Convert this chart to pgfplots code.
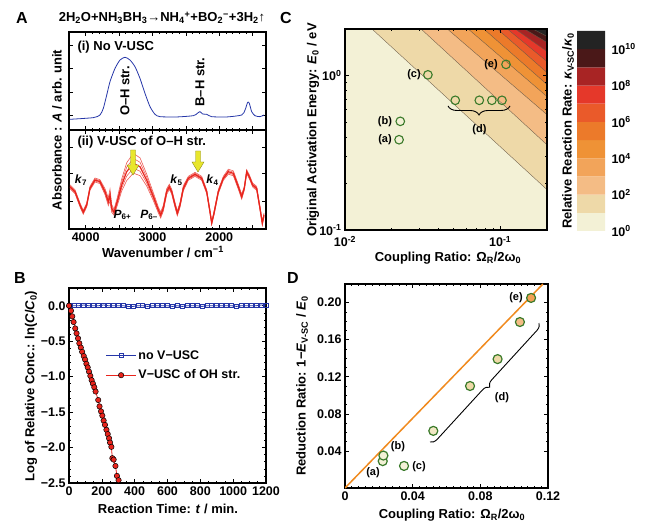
\documentclass[border=0pt]{standalone}
\usepackage{fontspec}
\setmainfont{Liberation Sans}
\usepackage{pgfplots}
\usepackage{pgfplotstable}
\pgfplotsset{compat=1.18}
\usetikzlibrary{decorations.pathreplacing}

% contour band colours (one per decade of the rate ratio)
\definecolor{band0}{HTML}{F3F1D6}
\definecolor{band1}{HTML}{EED9A8}
\definecolor{band2}{HTML}{F4BC85}
\definecolor{band3}{HTML}{F2A45A}
\definecolor{band4}{HTML}{EF9236}
\definecolor{band5}{HTML}{EC7A2A}
\definecolor{band6}{HTML}{EA5A2A}
\definecolor{band7}{HTML}{E5382A}
\definecolor{band8}{HTML}{A82424}
\definecolor{band9}{HTML}{4A1818}
\definecolor{band10}{HTML}{232323}
\definecolor{isoline}{HTML}{6A5A48}
\definecolor{specblue}{HTML}{2536A8}
\definecolor{specred}{HTML}{E8241C}
\definecolor{mkgreen}{HTML}{3A7A2A}
\definecolor{fitorange}{HTML}{F08A1E}
\definecolor{arrowyellow}{HTML}{E8E62C}
\definecolor{arrowedge}{HTML}{8A8A1A}

\newcommand{\lbl}{\fontsize{13}{15}\selectfont\bfseries}
\newcommand{\tkl}{\fontsize{12.5}{14}\selectfont\bfseries}
\newcommand{\sml}{\fontsize{11}{13}\selectfont\bfseries}
\newcommand{\kfont}{\fontsize{12}{14}\selectfont\bfseries}
\newcommand{\letter}{\fontsize{16}{18}\selectfont\bfseries}

% block arrow: x, y of top, y of tip
\newcommand{\yarrow}[3]{%
  \filldraw[fill=arrowyellow, draw=arrowedge, line width=0.4pt]
    (#1-2.5,#2) -- (#1+2.5,#2) -- (#1+2.5,#3+10) -- (#1+6,#3+10) -- (#1,#3)
    -- (#1-6,#3+10) -- (#1-2.5,#3+10) -- cycle;}

\pgfplotsset{
  panel/.style={
    scale only axis,
    axis line style={line width=1.1pt},
    every tick/.style={black, line width=0.6pt},
    major tick length=4pt,
    minor tick length=2pt,
    tick label style={font=\tkl},
    tick align=inside,
  },
}

% FTIR spectrum without coupling (wavenumber, absorbance)
\pgfplotstableread{
w    a
4235 0.109
3886 0.126
3786 0.153
3736 0.221
3685 0.357
3636 0.493
3561 0.629
3486 0.714
3411 0.742
3337 0.714
3262 0.646
3187 0.527
3112 0.374
3037 0.238
2962 0.160
2887 0.136
2637 0.133
2388 0.146
2328 0.170
2288 0.187
2248 0.163
2188 0.160
2113 0.136
1889 0.133
1664 0.153
1614 0.204
1574 0.283
1550 0.272
1514 0.187
1465 0.146
1390 0.136
1330 0.153
}\specfree

% spectra under V-USC: lower edge, centre and upper edge of the set of traces
\pgfplotstableread{
w    lo    mid   hi
4235 0.407 0.427 0.447
4160 0.357 0.377 0.397
4085 0.222 0.242 0.262
4036 0.149 0.169 0.189
3985 0.222 0.242 0.262
3936 0.391 0.411 0.431
3861 0.475 0.495 0.515
3786 0.458 0.478 0.498
3711 0.347 0.377 0.407
3661 0.236 0.276 0.316
3636 0.283 0.343 0.403
3611 0.169 0.209 0.249
3576 0.139 0.169 0.199
3527 0.236 0.276 0.316
3461 0.384 0.444 0.504
3386 0.489 0.579 0.669
3287 0.564 0.664 0.764
3187 0.539 0.629 0.719
3087 0.435 0.495 0.555
2987 0.286 0.326 0.366
2912 0.162 0.192 0.222
2877 0.111 0.141 0.171
2838 0.179 0.209 0.239
2787 0.347 0.377 0.407
2748 0.402 0.427 0.452
2712 0.352 0.377 0.402
2662 0.217 0.242 0.267
2628 0.133 0.158 0.183
2588 0.217 0.242 0.267
2538 0.386 0.411 0.436
2463 0.492 0.512 0.532
2363 0.532 0.552 0.572
2263 0.492 0.512 0.532
2188 0.357 0.377 0.397
2139 0.155 0.175 0.195
2113 0.048 0.058 0.078
2079 0.138 0.158 0.178
2014 0.357 0.377 0.397
1939 0.492 0.512 0.532
1864 0.554 0.579 0.604
1789 0.537 0.562 0.587
1715 0.402 0.427 0.452
1664 0.301 0.326 0.351
1625 0.391 0.411 0.431
1589 0.559 0.579 0.599
1550 0.508 0.528 0.548
1500 0.424 0.444 0.464
1440 0.391 0.411 0.431
1390 0.189 0.209 0.229
1355 0.038 0.058 0.078
1330 0.121 0.141 0.161
}\speccoupled

% kinetics: ln(C/C0) versus time
\pgfplotstableread{
t    y
0    0.00
30   0.00
60   0.00
90   0.01
120  0.00
150  0.00
180  0.00
210  0.01
240  0.00
270  0.00
300  0.00
330  0.00
360  -0.01
390  -0.01
420  0.00
450  0.00
480  -0.01
510  0.00
540  0.00
570  0.00
600  0.00
630  -0.01
660  0.00
690  -0.01
720  0.00
750  0.00
780  0.00
810  -0.01
840  0.00
870  0.00
900  0.00
930  0.00
960  0.00
990  0.00
1020 -0.01
1050 0.00
1080 0.00
1110 0.00
1140 0.00
1170 0.01
1200 0.01
}\nousc

\pgfplotstableread{
t    y
0    0.00
12   -0.07
20   -0.15
28   -0.23
38   -0.32
46   -0.39
55   -0.46
63   -0.53
72   -0.59
80   -0.65
90   -0.71
98   -0.76
106  -0.82
114  -0.87
122  -0.93
130  -0.99
138  -1.05
146  -1.10
154  -1.15
162  -1.21
178  -1.33
186  -1.42
195  -1.49
203  -1.55
211  -1.62
219  -1.68
228  -1.75
236  -1.81
244  -1.87
250  -1.93
258  -1.99
264  -2.15
272  -2.17
283  -2.26
292  -2.40
302  -2.46
}\withusc

% iso-rate lines of the map: coupling ratio where each line meets E0 = 2 eV,
% and E0 where it meets the coupling ratio 0.2
\pgfplotstableread{
n  rtop    eright
1  0.01493 0.182
2  0.0309  0.356
3  0.0455  0.558
4  0.0622  0.731
5  0.0777  0.875
6  0.0957  1.045
7  0.111   1.233
8  0.125   1.432
9  0.141   1.637
10 0.161   1.792
}\isolines

% molecules: coupling ratio, E0 / eV, reduction ratio
\pgfplotstableread{
r      e     red
0.0223 0.384 0.029
0.0227 0.505 0.035
0.0342 1.01  0.0238
0.0513 0.691 0.0616
0.0733 0.691 0.110
0.0883 0.691 0.139
0.1026 0.691 0.179
0.1089 1.18  0.205
}\molecules

\newcommand{\band}[1]{%
  \pgfplotstablegetelem{#1}{rtop}\of\isolines \let\rt\pgfplotsretval
  \pgfplotstablegetelem{#1}{eright}\of\isolines \let\er\pgfplotsretval
  \pgfmathsetmacro{\X}{ln(\rt)/ln(10)}%
  \pgfmathsetmacro{\Y}{ln(\er)/ln(10)}%
  \pgfmathtruncatemacro{\k}{#1+1}%
  \edef\temp{\noexpand\addplot[fill=band\k, draw=none] coordinates
    {(\X,0.30103) (-0.69897,0.30103) (-0.69897,\Y) (\X,0.30103)};}\temp
}
\newcommand{\isoline}[1]{%
  \pgfplotstablegetelem{#1}{rtop}\of\isolines \let\rt\pgfplotsretval
  \pgfplotstablegetelem{#1}{eright}\of\isolines \let\er\pgfplotsretval
  \pgfmathsetmacro{\X}{ln(\rt)/ln(10)}%
  \pgfmathsetmacro{\Y}{ln(\er)/ln(10)}%
  \edef\temp{\noexpand\addplot[isoline, line width=0.35pt] coordinates
    {(\X,0.30103) (-0.69897,\Y)};}\temp
}

\begin{document}
\begin{tikzpicture}[x=1pt,y=1pt]
\path[use as bounding box] (0pt,0pt) rectangle (650pt,527pt);
% lower-left corners of the axis boxes
\coordinate (posAi)  at (69pt,397pt);
\coordinate (posAii) at (69pt,298pt);
\coordinate (posB)   at (69pt,44pt);
\coordinate (posC)   at (345pt,297pt);
\coordinate (posCb)  at (577pt,296pt);
\coordinate (posD)   at (345pt,39pt);

%================ A (i): no coupling ================
\begin{axis}[panel, at={(posAi)}, anchor=south west,
  width=197pt, height=98pt,
  xmin=1300, xmax=4250, x dir=reverse, ymin=0, ymax=1,
  xtick={1500,2000,...,4000}, xticklabels={}, minor x tick num=4,
  ytick={0.153,0.388,0.628,0.867}, yticklabels={}, minor y tick num=1]
\addplot[specblue, line width=0.8pt, smooth, tension=0.4] table[x=w,y=a] {\specfree};
\end{axis}

%================ A (ii): V-USC of O-H stretch ================
\begin{axis}[panel, at={(posAii)}, anchor=south west,
  width=197pt, height=99pt,
  xmin=1300, xmax=4250, x dir=reverse, ymin=0, ymax=1,
  xtick={1500,2000,...,4000}, xticklabels={,2000,,3000,,4000}, minor x tick num=4,
  ytick={0.283,0.563,0.821}, yticklabels={}, minor y tick num=1]
\addplot[specred!75, line width=0.6pt] table[x=w,y=hi] {\speccoupled};
\addplot[specred!75, line width=0.6pt] table[x=w,y expr={0.25*\thisrow{lo}+0.75*\thisrow{hi}}] {\speccoupled};
\addplot[specred!75, line width=0.6pt] table[x=w,y expr={0.75*\thisrow{lo}+0.25*\thisrow{hi}}] {\speccoupled};
\addplot[specred!75, line width=0.6pt] table[x=w,y=lo] {\speccoupled};
\addplot[specred, line width=1.2pt] table[x=w,y=mid] {\speccoupled};
\end{axis}

%================ B: kinetics ================
\begin{axis}[panel, at={(posB)}, anchor=south west,
  width=197pt, height=195pt,
  xmin=0, xmax=1200, ymin=-2.5, ymax=0.25,
  xtick={0,200,...,1200}, xticklabels={0,200,400,600,800,1000,1200},
  minor x tick num=3,
  ytick={-2.5,-2,...,0}, yticklabels={−2.5,−2.0,−1.5,−1.0,−0.5,0.0},
  minor y tick num=4,
  legend style={draw=none, fill=none, at={(0.17,0.70)}, anchor=north west,
    font=\tkl, row sep=5pt, legend cell align=left},
  legend image code/.code={\draw[mark repeat=2,mark phase=2,#1]
    plot coordinates {(0pt,0pt) (15pt,0pt) (30pt,0pt)};}]
\addplot[color=specblue, line width=0.8pt, mark=square, mark size=2pt,
  mark options={fill=white, line width=0.8pt}] table[x=t,y=y] {\nousc};
\addlegendentry{no V−USC}
\addplot[color=specred, line width=0.8pt, mark=*, mark size=2.7pt,
  mark options={fill=specred, draw=black, line width=0.5pt}] table[x=t,y=y] {\withusc};
\addlegendentry{V−USC of OH str.}
\end{axis}

%================ C: rate map (log10 coordinates) ================
\begin{axis}[panel, at={(posC)}, anchor=south west,
  width=202pt, height=201pt,
  xmin=-2, xmax=-0.69897, ymin=-1, ymax=0.30103,
  axis on top,
  xtick={-2,-1}, xticklabels={10\textsuperscript{-2},10\textsuperscript{-1}},
  ytick={-1,0}, yticklabels={10\textsuperscript{-1},10\textsuperscript{0}},
  minor xtick={-1.699,-1.523,-1.398,-1.301,-1.222,-1.155,-1.097,-1.046,-0.699},
  minor ytick={-0.699,-0.523,-0.398,-0.301,-0.222,-0.155,-0.097,-0.046,0.301},
  xticklabel style={yshift=-3pt}]
\addplot[fill=band0, draw=none] coordinates {(-2,-1) (-0.69897,-1) (-0.69897,0.30103) (-2,0.30103) (-2,-1)};
\band{0}\band{1}\band{2}\band{3}\band{4}\band{5}\band{6}\band{7}\band{8}\band{9}
\isoline{0}\isoline{1}\isoline{2}\isoline{3}\isoline{4}\isoline{5}\isoline{6}\isoline{7}\isoline{8}\isoline{9}
\addplot[only marks, mark=o, mark size=4.3pt, mark options={draw=mkgreen, line width=1.1pt}]
  table[x expr={ln(\thisrow{r})/ln(10)}, y expr={ln(\thisrow{e})/ln(10)}] {\molecules};
\end{axis}

%================ C: colour scale (decades) ================
\begin{axis}[scale only axis, at={(posCb)}, anchor=south west,
  width=28pt, height=200pt,
  xmin=0, xmax=1, ymin=0, ymax=11,
  axis line style={draw=none}, xtick=\empty,
  ytick={0,2,4,6,8,10},
  yticklabels={10\textsuperscript{0},10\textsuperscript{2},10\textsuperscript{4},
               10\textsuperscript{6},10\textsuperscript{8},10\textsuperscript{10}},
  yticklabel pos=right, major tick length=0pt,
  ytick style={draw=none},
  tick label style={font=\tkl}, yticklabel style={xshift=3pt}]
\addplot[fill=band0, draw=none] coordinates {(0,0) (1,0) (1,1) (0,1) (0,0)};
\addplot[fill=band1, draw=none] coordinates {(0,1) (1,1) (1,2) (0,2) (0,1)};
\addplot[fill=band2, draw=none] coordinates {(0,2) (1,2) (1,3) (0,3) (0,2)};
\addplot[fill=band3, draw=none] coordinates {(0,3) (1,3) (1,4) (0,4) (0,3)};
\addplot[fill=band4, draw=none] coordinates {(0,4) (1,4) (1,5) (0,5) (0,4)};
\addplot[fill=band5, draw=none] coordinates {(0,5) (1,5) (1,6) (0,6) (0,5)};
\addplot[fill=band6, draw=none] coordinates {(0,6) (1,6) (1,7) (0,7) (0,6)};
\addplot[fill=band7, draw=none] coordinates {(0,7) (1,7) (1,8) (0,8) (0,7)};
\addplot[fill=band8, draw=none] coordinates {(0,8) (1,8) (1,9) (0,9) (0,8)};
\addplot[fill=band9, draw=none] coordinates {(0,9) (1,9) (1,10) (0,10) (0,9)};
\addplot[fill=band10, draw=none] coordinates {(0,10) (1,10) (1,11) (0,11) (0,10)};
\end{axis}

%================ D: reduction ratio ================
\begin{axis}[panel, at={(posD)}, anchor=south west,
  width=203pt, height=204pt,
  xmin=0, xmax=0.12, ymin=0, ymax=0.22,
  xtick={0,0.04,0.08,0.12}, xticklabels={0,0.04,0.08,0.12}, minor x tick num=9,
  ytick={0.04,0.08,0.12,0.16,0.2}, yticklabels={0.04,0.08,0.12,0.16,0.20},
  minor y tick num=3]
\addplot[fitorange, line width=1.5pt] coordinates {(0,0) (0.117,0.22)};
\addplot[only marks, mark=*, mark size=4.5pt,
  mark options={draw=mkgreen, fill=band0, line width=1.2pt}]
  coordinates {(0.0223,0.029) (0.0227,0.035) (0.0349,0.0238)};
\addplot[only marks, mark=*, mark size=4.5pt,
  mark options={draw=mkgreen, fill=band0!60!band1, line width=1.2pt}]
  coordinates {(0.0522,0.0616)};
\addplot[only marks, mark=*, mark size=4.5pt,
  mark options={draw=mkgreen, fill=band1, line width=1.2pt}]
  coordinates {(0.0739,0.110) (0.0902,0.139)};
\addplot[only marks, mark=*, mark size=4.5pt,
  mark options={draw=mkgreen, fill=band2, line width=1.2pt}]
  coordinates {(0.1034,0.179)};
\addplot[only marks, mark=*, mark size=4.5pt,
  mark options={draw=mkgreen, fill=band3!85!band4, line width=1.2pt}]
  coordinates {(0.110,0.205)};
\end{axis}

%================ annotations ================
% panel letters
\node[font=\letter] at (22,509) {A};
\node[font=\letter] at (20,249) {B};
\node[font=\letter] at (286,509) {C};
\node[font=\letter] at (293,249) {D};

% reaction
\node[font=\lbl] at (162,509) {2H\textsubscript{2}O+NH\textsubscript{3}BH\textsubscript{3}→NH\textsubscript{4}\textsuperscript{+}+BO\textsubscript{2}\textsuperscript{−}+3H\textsubscript{2}↑};

% panel A
\node[font=\lbl, anchor=west] at (74,480) {(i) No V-USC};
\node[font=\lbl, rotate=90] at (125,436) {O–H str.};
\node[font=\lbl, rotate=90] at (200,445) {B–H str.};
\node[font=\lbl, anchor=west] at (74,385) {(ii) V-USC of O–H str.};
\yarrow{133}{377}{352}
\yarrow{198}{376}{355}
\node[font=\kfont] at (81,347) {\textit{k}\textsubscript{7}};
\node[font=\kfont] at (176.5,347) {\textit{k}\textsubscript{5}};
\node[font=\kfont] at (212.5,347) {\textit{k}\textsubscript{4}};
\node[font=\kfont] at (122.5,312) {\textit{P}\textsubscript{6+}};
\node[font=\kfont] at (149,312) {\textit{P}\textsubscript{6–}};
\node[font=\lbl, rotate=90] at (57,397) {Absorbance : \textit{A} / arb. unit};
\node[font=\lbl] at (163,275) {Wavenumber / cm\textsuperscript{−1}};

% panel B
\node[font=\lbl, rotate=90] at (31,141) {Log of Relative Conc.: ln(\textit{C}/\textit{C}\textsubscript{0})};
\node[font=\lbl] at (168,18) {Reaction Time: \textit{t}  / min.};

% panel C
\node[font=\lbl, rotate=90] at (313,397) {Original Activation Energy: \textit{E}\textsubscript{0} / eV};
\node[font=\lbl] at (448,269) {Coupling Ratio: Ω\textsubscript{R}/2ω\textsubscript{0}};
\node[font=\lbl, rotate=90] at (568,396) {Relative Reaction Rate: \textit{κ}\textsubscript{V-SC}/\textit{κ}\textsubscript{0}};
\node[font=\sml] at (414,452) {(c)};
\node[font=\sml] at (385,405) {(b)};
\node[font=\sml] at (385,387) {(a)};
\node[font=\sml] at (491,462) {(e)};
\node[font=\sml] at (479.5,397) {(d)};
\draw[line width=0.9pt, decorate, decoration={brace, mirror, amplitude=9pt}] (448,421) -- (510,421);

% panel D
\node[font=\lbl, rotate=90] at (302,141) {Reduction Ratio: 1−\textit{E}\textsubscript{V-SC} / \textit{E}\textsubscript{0}};
\node[font=\lbl] at (452,12) {Coupling Ratio: Ω\textsubscript{R}/2ω\textsubscript{0}};
\node[font=\sml] at (373,54) {(a)};
\node[font=\sml] at (398,80) {(b)};
\node[font=\sml] at (419,60) {(c)};
\node[font=\sml] at (502,129) {(d)};
\node[font=\sml] at (516,229) {(e)};
\draw[line width=0.9pt, decorate, decoration={brace, mirror, amplitude=7pt}] (430,85) -- (539,204);
\end{tikzpicture}
\end{document}
